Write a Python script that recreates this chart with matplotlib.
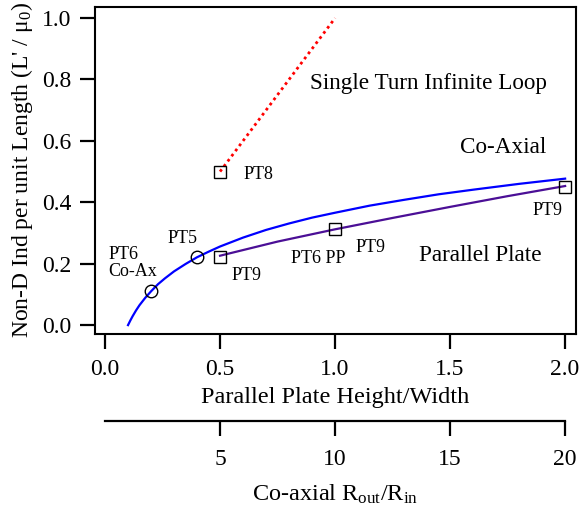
import matplotlib
matplotlib.use("Agg")
import matplotlib.pyplot as plt

# %% Fonts
plt.rcParams['font.family'] = ['Liberation Serif', 'DejaVu Serif']
plt.rcParams['mathtext.fontset'] = 'custom'
plt.rcParams['mathtext.rm'] = 'Liberation Serif'
plt.rcParams['mathtext.it'] = 'Liberation Serif:italic'

# %% Data
AXIS_SCALE = 10  # Co-axial Rout/Rin = 10 * parallel plate height/width

# Co-axial curve vs Rout/Rin
coax_ratio = [1.0, 1.1, 1.2, 1.35, 1.5, 1.75, 2.0, 2.3, 2.6, 3.0, 3.5, 4.0, 4.5,
              5.0, 6.0, 7.0, 8.0, 9.0, 10.0, 11.5, 13.0, 14.5, 16.0, 18.0, 20.0]
coax_L = [0.0, 0.015, 0.029, 0.048, 0.065, 0.089, 0.110, 0.133, 0.152, 0.175, 0.199,
          0.221, 0.239, 0.256, 0.285, 0.310, 0.331, 0.350, 0.366, 0.389, 0.408,
          0.426, 0.441, 0.460, 0.477]

# Parallel plate curve vs height/width
pp_hw = [0.5, 0.75, 1.0, 1.25, 1.5, 1.75, 2.0]
pp_L = [0.226, 0.272, 0.312, 0.349, 0.385, 0.420, 0.453]

# Single turn infinite loop
loop_hw = [0.5, 1.0]
loop_L = [0.5, 1.0]

# Test points
circle_ratio = [2.0, 4.0]
circle_L = [0.11, 0.222]
square_hw = [0.5, 0.5, 1.0, 2.0]
square_L = [0.50, 0.222, 0.312, 0.45]

x_ticks = [0.0, 0.5, 1.0, 1.5, 2.0]
y_ticks = [0.0, 0.2, 0.4, 0.6, 0.8, 1.0]
coax_ticks = [5, 10, 15, 20]

# %% Figure
fig = plt.figure(figsize=(5.79, 5.08), dpi=100)
ax_rect = [0.1641, 0.3425, 0.8302, 0.6437]
ax = fig.add_axes(ax_rect)

coax_x = [r / AXIS_SCALE for r in coax_ratio]
ax.plot(coax_x, coax_L, color='#0000ff', lw=1.6, zorder=2)
ax.plot(pp_hw, pp_L, color='#4b0f96', lw=1.6, zorder=2)
ax.plot(loop_hw, loop_L, color='#ff0000', lw=2, dashes=(1, 1.3), zorder=2)

ax.plot([r / AXIS_SCALE for r in circle_ratio], circle_L, 'o', ms=9, mfc='none',
        mec='black', mew=1.0, zorder=3)
ax.plot(square_hw, square_L, 's', ms=9, mfc='none', mec='black', mew=1.0, zorder=3)

# annotations
big = 16.7
small = 13
ax.text(0.891, 0.788, 'Single Turn Infinite Loop', fontsize=big, va='center')
ax.text(1.543, 0.577, 'Co-Axial', fontsize=big, va='center')
ax.text(1.365, 0.226, 'Parallel Plate', fontsize=big, va='center')
ax.text(0.604, 0.489, 'PT8', fontsize=small, va='center')
ax.text(0.272, 0.283, 'PT5', fontsize=small, va='center')
ax.text(0.015, 0.231, 'PT6', fontsize=small, va='center')
ax.text(0.015, 0.174, 'Co-Ax', fontsize=small, va='center')
ax.text(0.551, 0.163, 'PT9', fontsize=small, va='center')
ax.text(0.809, 0.218, 'PT6 PP', fontsize=small, va='center')
ax.text(1.087, 0.253, 'PT9', fontsize=small, va='center')
ax.text(1.858, 0.372, 'PT9', fontsize=small, va='center')

xlim = (-0.0435, 2.046)
ax.set_xlim(xlim)
ax.set_ylim(-0.029, 1.036)
ax.set_xticks(x_ticks)
ax.set_yticks(y_ticks)
ax.set_xticklabels([f'{t:.1f}' for t in x_ticks])
ax.set_yticklabels([f'{t:.1f}' for t in y_ticks])
ax.tick_params(direction='out', length=11, width=1.6, labelsize=17, pad=6)
ax.tick_params(axis='x', pad=7)
for s in ax.spines.values():
    s.set_linewidth(1.5)
ax.set_xlabel('Parallel Plate Height/Width', fontsize=17.5, labelpad=5)
ax.set_ylabel("Non-D Ind per unit Length (L' / \u03bc$_0$)", fontsize=17, labelpad=5)

# %% Secondary Co-axial axis
ax2 = fig.add_axes([ax_rect[0], (508 - 421) / 508, ax_rect[2], 0.0001])
ax2.patch.set_visible(False)
for side in ['top', 'left', 'right']:
    ax2.spines[side].set_visible(False)
ax2.spines['bottom'].set_linewidth(1.6)
ax2.spines['bottom'].set_bounds(0, 20)
ax2.set_xlim(xlim[0] * AXIS_SCALE, xlim[1] * AXIS_SCALE)
ax2.set_xticks(coax_ticks)
ax2.set_yticks([])
ax2.tick_params(direction='out', length=11, width=1.6, labelsize=17, pad=9)
ax2.set_xlabel(r'Co-axial R$_{\mathrm{out}}$/R$_{\mathrm{in}}$', fontsize=17.5, labelpad=9)

fig.savefig('out.png', dpi=100)
